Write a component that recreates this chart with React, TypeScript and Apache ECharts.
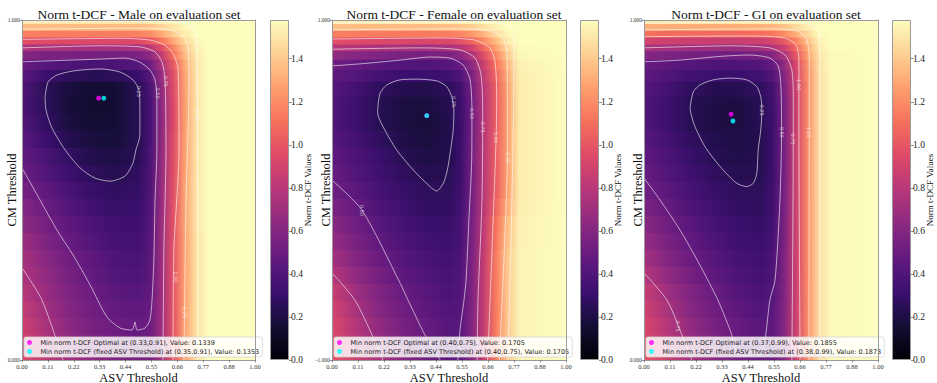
import React, { useEffect, useRef } from "react";
import * as echarts from "echarts";

// ---------- data ----------
const asvThresholds = [0, 0.1, 0.2, 0.3, 0.4, 0.5, 0.55, 0.6, 0.65, 0.7, 0.75, 0.8, 1.0];
const cmRowsUnit = [0, 0.05, 0.1, 0.15, 0.2, 0.25, 0.3, 0.35, 0.4, 0.45, 0.5, 0.55, 0.6, 0.65, 0.7, 0.75, 0.8, 0.84, 0.87, 0.9, 0.92, 0.94, 0.96, 0.98, 1.0];
const cmRowsFemale = [-1, -0.9, -0.8, -0.7, -0.6, -0.5, -0.4, -0.3, -0.2, -0.1, 0, 0.1, 0.2, 0.3, 0.4, 0.5, 0.6, 0.68, 0.74, 0.8, 0.84, 0.88, 0.92, 0.96, 1.0];
const colorScaleMax = 1.58;
const colorbarTicks = [0, 0.2, 0.4, 0.6, 0.8, 1.0, 1.2, 1.4];
const asvTickLabels = ["0.00", "0.11", "0.22", "0.33", "0.44", "0.55", "0.66", "0.77", "0.88", "1.00"];

const maleValues = [
  [0.95, 0.82, 0.72, 0.64, 0.58, 0.55, 0.56, 0.72, 0.99, 1.28, 1.49, 1.58, 1.58],
  [0.92, 0.78, 0.67, 0.59, 0.54, 0.51, 0.53, 0.71, 0.99, 1.28, 1.49, 1.58, 1.58],
  [0.88, 0.74, 0.63, 0.55, 0.5, 0.48, 0.5, 0.7, 0.99, 1.28, 1.49, 1.58, 1.58],
  [0.84, 0.71, 0.6, 0.52, 0.47, 0.45, 0.48, 0.7, 0.99, 1.28, 1.49, 1.58, 1.58],
  [0.8, 0.68, 0.58, 0.5, 0.44, 0.42, 0.46, 0.7, 0.99, 1.28, 1.49, 1.58, 1.58],
  [0.76, 0.65, 0.55, 0.47, 0.41, 0.39, 0.44, 0.7, 0.99, 1.28, 1.49, 1.58, 1.58],
  [0.73, 0.62, 0.52, 0.45, 0.39, 0.37, 0.43, 0.7, 0.99, 1.28, 1.49, 1.58, 1.58],
  [0.69, 0.58, 0.48, 0.41, 0.36, 0.35, 0.42, 0.69, 0.99, 1.28, 1.49, 1.58, 1.58],
  [0.64, 0.54, 0.45, 0.38, 0.33, 0.33, 0.41, 0.69, 0.99, 1.29, 1.5, 1.58, 1.58],
  [0.6, 0.5, 0.41, 0.34, 0.3, 0.31, 0.4, 0.68, 0.98, 1.29, 1.5, 1.58, 1.58],
  [0.55, 0.46, 0.37, 0.3, 0.27, 0.29, 0.39, 0.68, 0.98, 1.29, 1.5, 1.58, 1.58],
  [0.51, 0.41, 0.32, 0.26, 0.23, 0.27, 0.38, 0.67, 0.97, 1.28, 1.5, 1.58, 1.58],
  [0.47, 0.37, 0.28, 0.22, 0.2, 0.25, 0.37, 0.66, 0.97, 1.28, 1.5, 1.58, 1.58],
  [0.44, 0.32, 0.23, 0.18, 0.17, 0.24, 0.36, 0.65, 0.96, 1.28, 1.5, 1.58, 1.58],
  [0.41, 0.28, 0.19, 0.15, 0.16, 0.24, 0.36, 0.64, 0.95, 1.27, 1.5, 1.58, 1.58],
  [0.39, 0.26, 0.17, 0.14, 0.15, 0.24, 0.36, 0.64, 0.95, 1.27, 1.5, 1.58, 1.58],
  [0.4, 0.25, 0.18, 0.15, 0.16, 0.25, 0.37, 0.65, 0.96, 1.28, 1.5, 1.58, 1.58],
  [0.44, 0.32, 0.26, 0.24, 0.25, 0.31, 0.42, 0.68, 0.98, 1.29, 1.5, 1.58, 1.58],
  [0.49, 0.42, 0.39, 0.37, 0.38, 0.42, 0.51, 0.74, 1.02, 1.31, 1.51, 1.58, 1.58],
  [0.6, 0.56, 0.55, 0.54, 0.53, 0.56, 0.63, 0.84, 1.1, 1.36, 1.52, 1.58, 1.58],
  [0.77, 0.74, 0.73, 0.72, 0.72, 0.74, 0.8, 0.96, 1.18, 1.4, 1.54, 1.58, 1.58],
  [0.97, 0.95, 0.95, 0.94, 0.94, 0.95, 1.0, 1.12, 1.3, 1.46, 1.56, 1.58, 1.58],
  [1.16, 1.15, 1.15, 1.15, 1.15, 1.16, 1.2, 1.3, 1.42, 1.52, 1.58, 1.58, 1.58],
  [1.36, 1.36, 1.36, 1.36, 1.36, 1.36, 1.38, 1.44, 1.5, 1.56, 1.58, 1.58, 1.58],
  [1.5, 1.5, 1.5, 1.5, 1.5, 1.5, 1.52, 1.54, 1.56, 1.58, 1.58, 1.58, 1.58],
];

const femaleValues = [
  [1.0, 0.87, 0.74, 0.62, 0.52, 0.44, 0.46, 0.62, 0.86, 1.14, 1.4, 1.55, 1.58],
  [0.97, 0.82, 0.69, 0.58, 0.5, 0.43, 0.45, 0.61, 0.86, 1.14, 1.4, 1.55, 1.58],
  [0.94, 0.78, 0.65, 0.55, 0.48, 0.42, 0.44, 0.6, 0.86, 1.14, 1.4, 1.55, 1.58],
  [0.9, 0.74, 0.61, 0.52, 0.45, 0.4, 0.42, 0.59, 0.85, 1.14, 1.4, 1.55, 1.58],
  [0.86, 0.7, 0.58, 0.49, 0.43, 0.38, 0.41, 0.58, 0.85, 1.14, 1.4, 1.55, 1.58],
  [0.79, 0.65, 0.54, 0.45, 0.4, 0.36, 0.4, 0.58, 0.85, 1.14, 1.4, 1.55, 1.58],
  [0.72, 0.6, 0.5, 0.42, 0.37, 0.34, 0.39, 0.57, 0.85, 1.14, 1.4, 1.55, 1.58],
  [0.67, 0.56, 0.46, 0.39, 0.34, 0.32, 0.37, 0.56, 0.84, 1.12, 1.38, 1.54, 1.58],
  [0.62, 0.52, 0.43, 0.36, 0.31, 0.3, 0.36, 0.56, 0.83, 1.1, 1.36, 1.54, 1.58],
  [0.57, 0.48, 0.39, 0.33, 0.28, 0.28, 0.34, 0.55, 0.81, 1.06, 1.31, 1.53, 1.58],
  [0.52, 0.44, 0.36, 0.3, 0.26, 0.26, 0.33, 0.55, 0.8, 1.03, 1.27, 1.52, 1.58],
  [0.49, 0.41, 0.33, 0.27, 0.23, 0.24, 0.32, 0.54, 0.8, 1.03, 1.27, 1.52, 1.58],
  [0.46, 0.38, 0.31, 0.24, 0.2, 0.22, 0.31, 0.54, 0.8, 1.03, 1.27, 1.52, 1.58],
  [0.43, 0.35, 0.27, 0.21, 0.18, 0.22, 0.31, 0.53, 0.8, 1.03, 1.27, 1.52, 1.58],
  [0.4, 0.32, 0.24, 0.19, 0.17, 0.22, 0.31, 0.52, 0.79, 1.02, 1.26, 1.52, 1.58],
  [0.4, 0.32, 0.24, 0.19, 0.18, 0.23, 0.32, 0.52, 0.79, 1.02, 1.26, 1.52, 1.58],
  [0.42, 0.35, 0.27, 0.23, 0.22, 0.26, 0.34, 0.54, 0.8, 1.03, 1.27, 1.52, 1.58],
  [0.46, 0.41, 0.35, 0.32, 0.31, 0.33, 0.4, 0.58, 0.83, 1.06, 1.3, 1.53, 1.58],
  [0.51, 0.47, 0.43, 0.41, 0.4, 0.42, 0.48, 0.64, 0.88, 1.1, 1.34, 1.54, 1.58],
  [0.65, 0.61, 0.58, 0.55, 0.54, 0.56, 0.62, 0.76, 0.97, 1.18, 1.4, 1.56, 1.58],
  [0.8, 0.77, 0.75, 0.73, 0.72, 0.74, 0.79, 0.9, 1.08, 1.27, 1.46, 1.57, 1.58],
  [0.97, 0.95, 0.94, 0.93, 0.93, 0.94, 0.98, 1.06, 1.2, 1.36, 1.52, 1.58, 1.58],
  [1.16, 1.15, 1.14, 1.14, 1.14, 1.15, 1.18, 1.24, 1.34, 1.46, 1.56, 1.58, 1.58],
  [1.37, 1.36, 1.36, 1.36, 1.36, 1.37, 1.39, 1.42, 1.48, 1.54, 1.58, 1.58, 1.58],
  [1.52, 1.52, 1.52, 1.52, 1.52, 1.53, 1.54, 1.55, 1.57, 1.58, 1.58, 1.58, 1.58],
];

const giValues = [
  [1.0, 0.86, 0.73, 0.62, 0.54, 0.49, 0.5, 0.62, 0.88, 1.2, 1.48, 1.57, 1.58],
  [0.96, 0.82, 0.69, 0.58, 0.51, 0.46, 0.47, 0.61, 0.88, 1.2, 1.48, 1.57, 1.58],
  [0.93, 0.78, 0.65, 0.55, 0.48, 0.43, 0.45, 0.6, 0.88, 1.2, 1.48, 1.57, 1.58],
  [0.89, 0.74, 0.61, 0.52, 0.45, 0.4, 0.43, 0.6, 0.88, 1.2, 1.48, 1.57, 1.58],
  [0.85, 0.7, 0.58, 0.49, 0.42, 0.38, 0.41, 0.59, 0.88, 1.2, 1.48, 1.57, 1.58],
  [0.78, 0.65, 0.54, 0.45, 0.39, 0.35, 0.39, 0.58, 0.88, 1.2, 1.48, 1.57, 1.58],
  [0.72, 0.6, 0.5, 0.42, 0.36, 0.33, 0.38, 0.58, 0.88, 1.2, 1.48, 1.57, 1.58],
  [0.67, 0.56, 0.46, 0.39, 0.33, 0.31, 0.36, 0.57, 0.88, 1.2, 1.48, 1.57, 1.58],
  [0.62, 0.52, 0.43, 0.36, 0.31, 0.29, 0.35, 0.57, 0.88, 1.2, 1.48, 1.57, 1.58],
  [0.57, 0.48, 0.39, 0.33, 0.28, 0.27, 0.34, 0.56, 0.88, 1.2, 1.48, 1.57, 1.58],
  [0.52, 0.44, 0.36, 0.3, 0.26, 0.26, 0.33, 0.56, 0.88, 1.2, 1.48, 1.57, 1.58],
  [0.49, 0.41, 0.33, 0.27, 0.23, 0.24, 0.32, 0.55, 0.88, 1.2, 1.48, 1.57, 1.58],
  [0.46, 0.38, 0.3, 0.24, 0.21, 0.23, 0.31, 0.55, 0.88, 1.2, 1.48, 1.57, 1.58],
  [0.43, 0.35, 0.27, 0.22, 0.2, 0.23, 0.31, 0.55, 0.88, 1.2, 1.48, 1.57, 1.58],
  [0.4, 0.32, 0.24, 0.2, 0.19, 0.24, 0.32, 0.55, 0.87, 1.2, 1.48, 1.57, 1.58],
  [0.4, 0.32, 0.24, 0.2, 0.19, 0.24, 0.33, 0.55, 0.87, 1.2, 1.48, 1.57, 1.58],
  [0.42, 0.35, 0.27, 0.23, 0.23, 0.27, 0.35, 0.57, 0.88, 1.2, 1.48, 1.57, 1.58],
  [0.45, 0.4, 0.34, 0.31, 0.31, 0.34, 0.41, 0.6, 0.9, 1.21, 1.48, 1.57, 1.58],
  [0.49, 0.45, 0.41, 0.39, 0.39, 0.41, 0.47, 0.65, 0.93, 1.23, 1.49, 1.57, 1.58],
  [0.6, 0.57, 0.54, 0.52, 0.52, 0.54, 0.6, 0.75, 1.0, 1.27, 1.5, 1.57, 1.58],
  [0.74, 0.72, 0.7, 0.69, 0.69, 0.71, 0.76, 0.88, 1.08, 1.32, 1.52, 1.58, 1.58],
  [0.9, 0.88, 0.87, 0.86, 0.86, 0.88, 0.92, 1.02, 1.18, 1.38, 1.54, 1.58, 1.58],
  [1.1, 1.09, 1.08, 1.08, 1.08, 1.09, 1.12, 1.2, 1.32, 1.46, 1.57, 1.58, 1.58],
  [1.32, 1.31, 1.31, 1.31, 1.31, 1.32, 1.34, 1.38, 1.46, 1.53, 1.58, 1.58, 1.58],
  [1.5, 1.5, 1.5, 1.5, 1.5, 1.51, 1.52, 1.54, 1.56, 1.58, 1.58, 1.58, 1.58],
];

// contour polylines [ASV, CM]
const maleContour025 = [[0.099,0.774],[0.112,0.818],[0.15,0.838],[0.219,0.85],[0.335,0.856],[0.421,0.847],[0.476,0.824],[0.502,0.794],[0.506,0.735],[0.506,0.662],[0.489,0.618],[0.476,0.579],[0.442,0.541],[0.378,0.526],[0.313,0.535],[0.249,0.565],[0.185,0.618],[0.129,0.682],[0.103,0.735],[0.099,0.774]];
const maleContour050 = [[0,0.877],[0.163,0.881],[0.335,0.885],[0.442,0.888],[0.506,0.876],[0.549,0.853],[0.571,0.824],[0.579,0.765],[0.579,0.618],[0.571,0.47],[0.566,0.294],[0.558,0.176],[0.549,0.118],[0.528,0.094],[0.494,0.088],[0.485,0.112],[0.472,0.088],[0.421,0.094],[0.365,0.126],[0.292,0.221],[0.219,0.309],[0.15,0.382],[0.077,0.471],[0,0.565]];
const maleContour075 = [[0,0.918],[0.335,0.924],[0.506,0.921],[0.571,0.906],[0.601,0.876],[0.614,0.824],[0.618,0.618],[0.609,0.324],[0.605,0]];
const maleContour075b = [[0,0.271],[0.086,0.176],[0.176,0]];
const maleContour100 = [[0,0.943],[0.421,0.946],[0.549,0.941],[0.614,0.926],[0.652,0.897],[0.67,0.853],[0.674,0.618],[0.652,0.324],[0.648,0]];
const maleContour125 = [[0,0.973],[0.506,0.976],[0.635,0.971],[0.691,0.953],[0.712,0.918],[0.717,0.824],[0.704,0.47],[0.695,0]];
const maleContour150 = [[0,0.994],[0.592,0.996],[0.7,0.991],[0.738,0.971],[0.751,0.926],[0.755,0]];
const maleContourLabels = [
  { name: "0.25", value: [0.5, 0.79] }, { name: "0.50", value: [0.584, 0.785] }, { name: "0.75", value: [0.618, 0.82] },
  { name: "1.00", value: [0.66, 0.245] }, { name: "1.25", value: [0.7, 0.14] }, { name: "1.50", value: [0.755, 0.72] },
];

const femaleContour025 = [[0.195,0.47],[0.205,0.568],[0.234,0.618],[0.291,0.648],[0.362,0.652],[0.447,0.642],[0.49,0.608],[0.512,0.548],[0.521,0.47],[0.518,0.352],[0.507,0.236],[0.493,0.118],[0.476,0.04],[0.447,-0.006],[0.419,0.02],[0.347,0.118],[0.276,0.236],[0.226,0.352],[0.198,0.432],[0.195,0.47]];
const femaleContour050 = [[0,0.73],[0.12,0.742],[0.291,0.764],[0.419,0.782],[0.504,0.776],[0.56,0.736],[0.59,0.648],[0.598,0.47],[0.597,0.176],[0.585,-0.176],[0.573,-0.53],[0.564,-0.648],[0.547,-0.824],[0.538,-1]];
const femaleContour050b = [[0,0.058],[0.128,-0.118],[0.291,-0.548],[0.325,-0.648],[0.397,-0.852],[0.462,-1]];
const femaleContour075 = [[0,0.828],[0.376,0.836],[0.547,0.824],[0.611,0.776],[0.637,0.676],[0.644,0.47],[0.641,-0.058],[0.624,-0.648],[0.62,-1]];
const femaleContour075b = [[0,-0.488],[0.098,-0.648],[0.175,-0.864],[0.218,-1]];
const femaleContour100 = [[0,0.888],[0.462,0.894],[0.611,0.882],[0.675,0.836],[0.697,0.752],[0.704,0.53],[0.684,-0.352],[0.665,-1]];
const femaleContour125 = [[0,0.942],[0.547,0.948],[0.675,0.936],[0.731,0.894],[0.748,0.794],[0.75,0.236],[0.735,-0.4],[0.715,-1]];
const femaleContour150 = [[0,0.982],[0.632,0.988],[0.739,0.976],[0.774,0.93],[0.778,0.824],[0.769,-0.058],[0.752,-1]];
const femaleContourLabels = [
  { name: "0.25", value: [0.52, 0.52] }, { name: "0.50", value: [0.6, 0.45] }, { name: "0.75", value: [0.644, 0.37] },
  { name: "1.00", value: [0.702, 0.31] }, { name: "1.25", value: [0.75, 0.19] }, { name: "0.50", value: [0.13, -0.12] },
];

const giContour025 = [[0.197,0.745],[0.211,0.789],[0.239,0.809],[0.296,0.824],[0.368,0.829],[0.439,0.824],[0.482,0.804],[0.499,0.774],[0.504,0.735],[0.499,0.676],[0.488,0.618],[0.482,0.549],[0.467,0.52],[0.439,0.51],[0.396,0.52],[0.325,0.569],[0.261,0.627],[0.218,0.686],[0.2,0.726],[0.197,0.745]];
const giContour050 = [[0,0.877],[0.154,0.882],[0.325,0.893],[0.453,0.897],[0.538,0.888],[0.573,0.865],[0.585,0.809],[0.588,0.676],[0.581,0.471],[0.56,0.235],[0.538,0.176],[0.517,0.059],[0.496,0.012],[0.474,0.021],[0.453,0.012],[0.41,0.012],[0.368,0.088],[0.316,0.176],[0.239,0.279],[0.154,0.382],[0.068,0.471],[0,0.535]];
const giContour075 = [[0,0.918],[0.368,0.924],[0.538,0.918],[0.603,0.897],[0.632,0.853],[0.638,0.765],[0.637,0.471],[0.632,0]];
const giContour075b = [[0,0.256],[0.098,0.176],[0.154,0.088],[0.204,0]];
const giContour100 = [[0,0.951],[0.453,0.953],[0.603,0.947],[0.65,0.926],[0.662,0.882],[0.662,0.706],[0.667,0]];
const giContour125 = [[0,0.971],[0.538,0.974],[0.654,0.968],[0.692,0.947],[0.706,0.897],[0.705,0]];
const giContour150 = [[0,0.991],[0.624,0.994],[0.718,0.985],[0.748,0.956],[0.752,0.897],[0.752,0]];
const giContourLabels = [
  { name: "0.25", value: [0.504, 0.735] }, { name: "0.50", value: [0.588, 0.67] }, { name: "0.75", value: [0.638, 0.65] },
  { name: "1.00", value: [0.662, 0.81] }, { name: "1.25", value: [0.705, 0.67] }, { name: "0.75", value: [0.145, 0.1] },
];

// minimum markers (position as drawn)
const maleOptimalPoint = [0.329, 0.77];
const maleFixedPoint = [0.351, 0.77];
const femaleOptimalPoint = [0.405, 0.437];
const femaleFixedPoint = [0.405, 0.437];
const giOptimalPoint = [0.372, 0.723];
const giFixedPoint = [0.38, 0.703];

const panelTitles = [
  "Norm t-DCF - Male on evaluation set",
  "Norm t-DCF - Female on evaluation set",
  "Norm t-DCF - GI on evaluation set",
];
const optimalLabels = [
  "Min norm t-DCF Optimal at (0.33,0.91), Value: 0.1339",
  "Min norm t-DCF Optimal at (0.40,0.75), Value: 0.1705",
  "Min norm t-DCF Optimal at (0.37,0.99), Value: 0.1855",
];
const fixedLabels = [
  "Min norm t-DCF (fixed ASV Threshold) at (0.35,0.91), Value: 0.1353",
  "Min norm t-DCF (fixed ASV Threshold) at (0.40,0.75), Value: 0.1705",
  "Min norm t-DCF (fixed ASV Threshold) at (0.38,0.99), Value: 0.1873",
];

// ---------- styling / layout ----------
const MAGMA = ["#000004", "#140e36", "#3b0f70", "#641a80", "#8c2981", "#b73779", "#de4968", "#f7705c", "#fe9f6d", "#fecf92", "#fcfdbf"];
const magmaRgb = MAGMA.map((h) => [parseInt(h.slice(1, 3), 16), parseInt(h.slice(3, 5), 16), parseInt(h.slice(5, 7), 16)]);
function magma(v: number) {
  let t = v / colorScaleMax;
  if (t < 0) t = 0;
  if (t > 1) t = 1;
  const p = t * (magmaRgb.length - 1);
  const i = Math.min(Math.floor(p), magmaRgb.length - 2);
  const f = p - i;
  const a = magmaRgb[i], b = magmaRgb[i + 1];
  return `rgb(${Math.round(a[0] + (b[0] - a[0]) * f)},${Math.round(a[1] + (b[1] - a[1]) * f)},${Math.round(a[2] + (b[2] - a[2]) * f)})`;
}

const SERIF = "Liberation Serif";
const FRAME = "#9a9a9a";
const TOP = 20;
const HEIGHT = 340;

const panels = [
  { left: 22, width: 233, cbLeft: 270, titleX: 134, yNameGap: 4, yMin: 0, yMax: 1, rows: cmRowsUnit, values: maleValues,
    contours: [maleContour025, maleContour050, maleContour075, maleContour075b, maleContour100, maleContour125, maleContour150],
    labels: maleContourLabels, opt: maleOptimalPoint, fix: maleFixedPoint },
  { left: 332, width: 234, cbLeft: 580, titleX: 449, yNameGap: 0, yMin: -1, yMax: 1, rows: cmRowsFemale, values: femaleValues,
    contours: [femaleContour025, femaleContour050, femaleContour050b, femaleContour075, femaleContour075b, femaleContour100, femaleContour125, femaleContour150],
    labels: femaleContourLabels, opt: femaleOptimalPoint, fix: femaleFixedPoint },
  { left: 644, width: 234, cbLeft: 892, titleX: 761, yNameGap: 0, yMin: 0, yMax: 1, rows: cmRowsUnit, values: giValues,
    contours: [giContour025, giContour050, giContour075, giContour075b, giContour100, giContour125, giContour150],
    labels: giContourLabels, opt: giOptimalPoint, fix: giFixedPoint },
];

function buildOption() {
  const grid: any[] = [];
  const xAxis: any[] = [];
  const yAxis: any[] = [];
  const series: any[] = [];
  const title: any[] = [];
  const legend: any[] = [];

  panels.forEach((p, k) => {
    const g = 2 * k;
    grid.push({ left: p.left, top: TOP, width: p.width, height: HEIGHT, containLabel: false, outerBoundsMode: "none" });
    grid.push({ left: p.cbLeft, top: TOP, width: 19, height: HEIGHT, containLabel: false, outerBoundsMode: "none" });
    const xb = xAxis.length;
    xAxis.push({
      type: "value", gridIndex: g, min: 0, max: 1, interval: 1 / 9, z: 10,
      axisLine: { show: true, onZero: false, lineStyle: { color: FRAME, width: 1 } },
      axisTick: { show: true, length: 2.5, lineStyle: { color: "#555", width: 0.6 } },
      splitLine: { show: false },
      axisLabel: {
        fontSize: 6.5, fontFamily: SERIF, color: "#333", margin: 3,
        formatter: (v: number) => asvTickLabels[Math.round(v * 9)] ?? "",
      },
      name: "ASV Threshold", nameLocation: "middle", nameGap: 11, nameMoveOverlap: false,
      nameTextStyle: { fontSize: 12.5, fontFamily: SERIF, color: "#111" },
    });
    xAxis.push({
      type: "value", gridIndex: g, min: 0, max: 1, position: "top", z: 10,
      axisLine: { show: true, onZero: false, lineStyle: { color: FRAME, width: 1 } },
      axisTick: { show: false }, axisLabel: { show: false }, splitLine: { show: false },
    });
    xAxis.push({ type: "category", gridIndex: g + 1, data: ["cb"], show: false, boundaryGap: true });
    const yb = yAxis.length;
    yAxis.push({
      type: "value", gridIndex: g, min: p.yMin, max: p.yMax, interval: p.yMax - p.yMin, z: 10,
      axisLine: { show: true, onZero: false, lineStyle: { color: FRAME, width: 1 } },
      axisTick: { show: true, length: 2, lineStyle: { color: "#555", width: 0.6 } },
      splitLine: { show: false },
      axisLabel: { fontSize: 5.5, fontFamily: SERIF, color: "#333", margin: 2, formatter: (v: number) => v.toFixed(3) },
      name: "CM Threshold", nameLocation: "middle", nameGap: p.yNameGap, nameMoveOverlap: false,
      nameTextStyle: { fontSize: 12.5, fontFamily: SERIF, color: "#111" },
    });
    yAxis.push({
      type: "value", gridIndex: g, min: p.yMin, max: p.yMax, position: "right", z: 10,
      axisLine: { show: true, onZero: false, lineStyle: { color: FRAME, width: 1 } },
      axisTick: { show: false }, axisLabel: { show: false }, splitLine: { show: false },
    });
    yAxis.push({
      type: "value", gridIndex: g + 1, min: 0, max: colorScaleMax, interval: 0.2, position: "right",
      axisLine: { show: false },
      axisTick: { show: true, length: 3, lineStyle: { color: "#444", width: 0.6 } },
      splitLine: { show: false },
      axisLabel: {
        fontSize: 9.5, fontFamily: SERIF, color: "#222", margin: 2, showMaxLabel: false,
        formatter: (v: number) => (colorbarTicks.some((t) => Math.abs(t - v) < 1e-6) ? v.toFixed(1) : ""),
      },
      name: "Norm t-DCF Values", nameLocation: "middle", nameGap: 14, nameMoveOverlap: false,
      nameTextStyle: { fontSize: 9, fontFamily: SERIF, color: "#111" },
    });

    // heat field: each CM row drawn as a horizontal colour gradient through its ASV samples
    const rows = p.rows;
    const vals = p.values;
    series.push({
      type: "custom", xAxisIndex: xb, yAxisIndex: yb, z: 1, silent: true, clip: true,
      data: rows.map((y, i) => [y, ...vals[i]]),
      encode: { x: 1, y: 0 },
      renderItem: (params: any, api: any) => {
        const i = params.dataIndex;
        const y = rows[i];
        const lo = i === 0 ? rows[0] : (rows[i - 1] + y) / 2;
        const hi = i === rows.length - 1 ? rows[i] : (rows[i + 1] + y) / 2;
        const x0 = asvThresholds[0];
        const x1 = asvThresholds[asvThresholds.length - 1];
        const a = api.coord([x0, hi]);
        const b = api.coord([x1, lo]);
        const stops = asvThresholds.map((x, c) => ({ offset: (x - x0) / (x1 - x0), color: magma(vals[i][c]) }));
        return {
          type: "rect",
          shape: { x: a[0], y: a[1] - 0.6, width: b[0] - a[0], height: b[1] - a[1] + 1.2 },
          style: { fill: new echarts.graphic.LinearGradient(0, 0, 1, 0, stops) },
        };
      },
    });

    p.contours.forEach((pts) => {
      series.push({
        type: "line", xAxisIndex: xb, yAxisIndex: yb, data: pts, z: 3, silent: true,
        symbol: "none", smooth: 0.25,
        lineStyle: { color: "rgba(255,255,255,0.75)", width: 0.8 },
      });
    });

    // inline contour level labels
    series.push({
      type: "scatter", xAxisIndex: xb, yAxisIndex: yb, z: 4, silent: true,
      data: p.labels, symbolSize: 0,
      label: {
        show: true, position: "inside", rotate: -90, formatter: (d: any) => d.name,
        fontSize: 5, fontFamily: "DejaVu Sans", color: "rgba(255,255,255,0.85)",
      },
    });

    series.push({
      type: "scatter", name: optimalLabels[k], xAxisIndex: xb, yAxisIndex: yb, z: 5,
      data: [p.opt], symbolSize: 5, itemStyle: { color: "#ff00ff" },
    });
    series.push({
      type: "scatter", name: fixedLabels[k], xAxisIndex: xb, yAxisIndex: yb, z: 6,
      data: [p.fix], symbolSize: 5, itemStyle: { color: "#00ffff" },
    });

    // colour bar
    series.push({
      type: "bar", xAxisIndex: xb + 2, yAxisIndex: yb + 2, data: [colorScaleMax], barWidth: "100%", silent: true,
      itemStyle: {
        borderColor: FRAME, borderWidth: 1,
        color: new echarts.graphic.LinearGradient(0, 1, 0, 0, MAGMA.map((c, i) => ({ offset: i / (MAGMA.length - 1), color: c }))),
      },
    });

    title.push({
      text: panelTitles[k], left: p.titleX, top: 2, textAlign: "center",
      textStyle: { fontSize: 13.5, fontWeight: "normal", fontFamily: SERIF, color: "#111" },
    });
    legend.push({
      data: [optimalLabels[k], fixedLabels[k]], orient: "vertical", left: p.left + 2, top: 337,
      backgroundColor: "rgba(255,255,255,0.82)", borderColor: "#d4d4d4", borderWidth: 0.8, borderRadius: 2,
      padding: [2, 3, 2, 3], itemGap: 2, itemWidth: 12, itemHeight: 5, icon: "circle", selectedMode: false,
      textStyle: { fontFamily: "DejaVu Sans", fontSize: 6.5, color: "#222" },
    });
  });

  return { animation: false, backgroundColor: "#ffffff", grid, xAxis, yAxis, series, title, legend };
}

export default function App() {
  const ref = useRef<HTMLDivElement>(null);
  useEffect(() => {
    document.body.style.margin = "0";
    if (!ref.current) return;
    const chart = echarts.init(ref.current, undefined, { renderer: "svg" });
    chart.setOption(buildOption() as any);
    return () => chart.dispose();
  }, []);
  return <div ref={ref} style={{ width: 937, height: 383 }} />;
}
